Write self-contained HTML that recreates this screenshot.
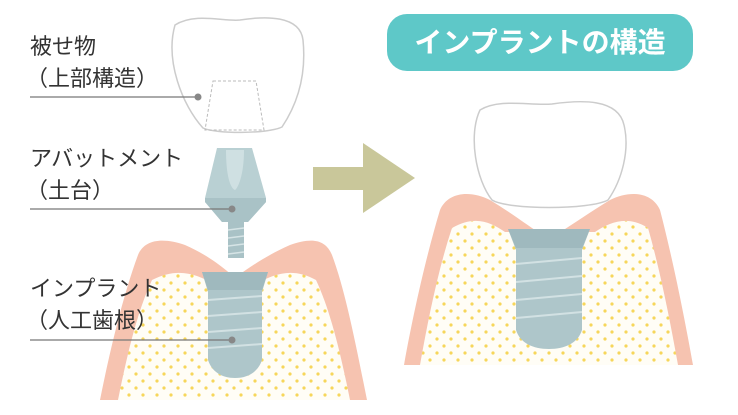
<!DOCTYPE html>
<html><head><meta charset="utf-8"><style>
html,body{margin:0;padding:0;background:#fff;width:738px;height:415px;overflow:hidden}
svg{display:block}
</style></head><body>
<svg width="738" height="415" viewBox="0 0 738 415" xmlns="http://www.w3.org/2000/svg">
<defs>
<pattern id="dots" width="14" height="14" patternUnits="userSpaceOnUse">
<rect width="14" height="14" fill="#fffdf6"/>
<circle cx="3" cy="3" r="1.6" fill="#f7d65a"/>
<circle cx="10" cy="10" r="1.6" fill="#f7d65a"/>
</pattern>
</defs>

<!-- Title badge -->
<rect x="387" y="14" width="306" height="57" rx="20" fill="#5ec8c8"/>
<text x="540" y="52" text-anchor="middle" font-family="'Liberation Sans','Noto Sans CJK JP',sans-serif" font-weight="bold" font-size="28" fill="#fff">インプラントの構造</text>

<!-- Left gum/bone -->
<path d="M100,400 C112,340 125,290 138,255 C145,238 165,238 185,245 C215,258 235,278 235,278 C235,278 260,258 290,245 C310,238 325,238 332,255 C345,290 355,340 367,400 Z" fill="#f6c3b0"/>
<path d="M118,400 C128,350 138,310 152,280 C175,268 195,272 215,285 L255,285 C275,272 295,268 316,280 C330,310 340,350 350,400 Z" fill="url(#dots)"/>

<!-- Left crown -->
<path d="M175,25 C195,12 225,22 240,20 C265,16 300,15 303,40 C306,70 300,100 282,127 C268,134 215,134 203,128 C182,105 165,60 175,25 Z" fill="#fff" stroke="#ccc" stroke-width="1.5"/>
<path d="M213,81 L256,81 L264,130 L205,130 Z" fill="none" stroke="#bbb" stroke-width="1" stroke-dasharray="3,2"/>

<!-- Abutment -->
<path d="M217,148 L252,148 L266,198 L266,202 L248,222 L222,222 L205,202 L205,198 Z" fill="#b9d0d3"/>
<path d="M226,150 L244,150 C244,175 238,188 235,190 C230,188 226,175 226,150 Z" fill="#cfe0e2"/>
<path d="M205,198 L266,198 L266,202 L248,222 L222,222 L205,202 Z" fill="#a9c2c6"/>
<rect x="228" y="222" width="16" height="36" fill="#a9c2c6"/>
<g stroke="#d6e4e6" stroke-width="1.5"><line x1="228" y1="230" x2="244" y2="228"/><line x1="228" y1="238" x2="244" y2="236"/><line x1="228" y1="246" x2="244" y2="244"/><line x1="228" y1="254" x2="244" y2="252"/></g>

<!-- Left implant -->
<path d="M202,272 L268,272 L262,292 L262,360 C258,372 248,378 235,378 C222,378 212,372 208,360 L208,292 Z" fill="#aec6ca"/>
<path d="M202,272 L268,272 L262,290 L208,290 Z" fill="#9fb9be"/>
<g stroke="#d2e1e3" stroke-width="2"><line x1="208" y1="300" x2="262" y2="296"/><line x1="208" y1="316" x2="262" y2="312"/><line x1="208" y1="332" x2="262" y2="328"/><line x1="208" y1="348" x2="262" y2="344"/></g>

<!-- Leader lines -->
<g stroke="#777" stroke-width="1.3"><line x1="30" y1="97" x2="198" y2="97"/><line x1="30" y1="209" x2="232" y2="209"/><line x1="30" y1="340" x2="232" y2="340"/></g>
<g fill="#888"><circle cx="198" cy="97" r="3.5"/><circle cx="232" cy="209" r="3.5"/><circle cx="232" cy="340" r="3.5"/></g>

<!-- Labels -->
<g font-family="'Liberation Sans','Noto Sans CJK JP',sans-serif" font-size="22" fill="#333">
<text x="30" y="54">被せ物</text>
<text x="26" y="86">（上部構造）</text>
<text x="30" y="166">アバットメント</text>
<text x="26" y="198">（土台）</text>
<text x="30" y="296">インプラント</text>
<text x="26" y="328">（人工歯根）</text>
</g>

<!-- Arrow -->
<rect x="313" y="167" width="52" height="23" fill="#c9c79a"/>
<polygon points="363,143 415,178 363,213" fill="#c9c79a"/>

<!-- Right gum/bone -->
<path d="M404,365 C412,320 425,260 440,210 C448,192 470,190 490,200 C515,215 540,235 549,238 C558,235 585,215 610,200 C630,190 652,192 660,210 C673,260 685,320 693,365 Z" fill="#f6c3b0"/>
<path d="M420,365 C428,320 438,270 452,228 C475,215 490,222 505,232 L595,232 C610,222 628,215 648,228 C660,270 670,320 678,365 Z" fill="url(#dots)"/>

<!-- Right crown -->
<path d="M480,110 C500,98 530,106 552,104 C580,100 618,98 624,125 C630,150 622,180 608,200 C590,210 508,210 492,200 C476,180 468,135 480,110 Z" fill="#fff" stroke="#ccc" stroke-width="1.5"/>

<!-- Right implant -->
<path d="M508,229 L590,229 L582,250 L582,330 C578,343 565,349 549,349 C533,349 520,343 516,330 L516,250 Z" fill="#aec6ca"/>
<path d="M508,229 L590,229 L582,248 L516,248 Z" fill="#9fb9be"/>
<g stroke="#d2e1e3" stroke-width="2"><line x1="516" y1="264" x2="582" y2="258"/><line x1="516" y1="282" x2="582" y2="276"/><line x1="516" y1="300" x2="582" y2="294"/><line x1="516" y1="318" x2="582" y2="312"/></g>
</svg>
</body></html>
